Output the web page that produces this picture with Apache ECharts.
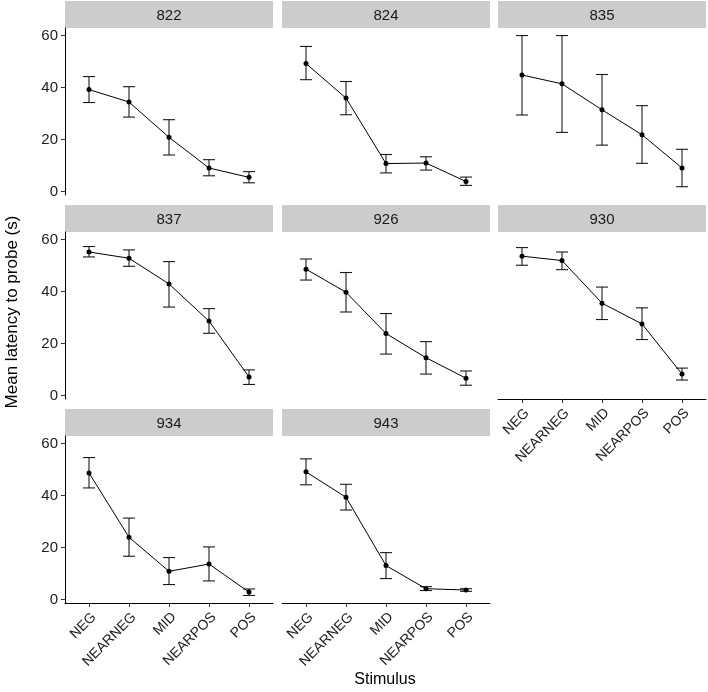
<!DOCTYPE html>
<html>
<head>
<meta charset="utf-8">
<script src="https://cdn.jsdelivr.net/npm/echarts@6/dist/echarts.min.js"></script>
<style>
  html, body { margin: 0; padding: 0; background: #fff; }
  #chart { width: 708px; height: 692px; }
</style>
</head>
<body>
<div id="chart"></div>
<script>
// categories and facet labels
const stimuli = ['NEG', 'NEARNEG', 'MID', 'NEARPOS', 'POS'];
const subjects = ['822', '824', '835', '837', '926', '930', '934', '943'];
const yTicks = [0, 20, 40, 60];

// mean latency, lower and upper error bar per subject (NEG .. POS)
const mean822 = [39.2, 34.4, 20.8, 9.0, 5.4];
const lower822 = [34.2, 28.6, 14.0, 6.0, 3.3];
const upper822 = [44.2, 40.3, 27.6, 12.2, 7.6];

const mean824 = [49.2, 35.9, 10.7, 10.9, 3.8];
const lower824 = [43.0, 29.5, 7.1, 8.2, 2.3];
const upper824 = [55.8, 42.3, 14.2, 13.3, 5.5];

const mean835 = [44.8, 41.4, 31.4, 21.8, 9.0];
const lower835 = [29.4, 22.7, 17.8, 10.8, 1.8];
const upper835 = [60.0, 60.0, 45.0, 33.0, 16.2];

const mean837 = [55.2, 52.8, 42.9, 28.6, 7.1];
const lower837 = [53.3, 49.7, 34.0, 23.9, 4.2];
const upper837 = [57.3, 56.0, 51.5, 33.4, 9.8];

const mean926 = [48.6, 39.7, 23.8, 14.5, 6.6];
const lower926 = [44.4, 32.1, 15.9, 8.2, 3.9];
const upper926 = [52.5, 47.3, 31.5, 20.7, 9.4];

const mean930 = [53.6, 51.9, 35.5, 27.5, 8.2];
const lower930 = [50.1, 48.4, 29.2, 21.5, 5.9];
const upper930 = [56.9, 55.2, 41.7, 33.7, 10.5];

const mean934 = [48.7, 23.9, 10.8, 13.6, 2.8];
const lower934 = [42.9, 16.6, 5.7, 7.1, 1.5];
const upper934 = [54.6, 31.3, 16.1, 20.2, 4.0];

const mean943 = [49.1, 39.3, 13.0, 4.1, 3.6];
const lower943 = [44.1, 34.4, 8.0, 3.4, 3.1];
const upper943 = [54.1, 44.3, 18.0, 4.9, 4.1];

const means = [mean822, mean824, mean835, mean837, mean926, mean930, mean934, mean943];
const lowers = [lower822, lower824, lower835, lower837, lower926, lower930, lower934, lower943];
const uppers = [upper822, upper824, upper835, upper837, upper926, upper930, upper934, upper943];

// layout
const colLeft = [65, 282, 498];
const rowTop = [1, 205, 409];
const stripH = 27, panelW = 208, panelH = 167;
const bottomPanels = [5, 6, 7];
const font = "'Liberation Sans', Arial, sans-serif";

const chart = echarts.init(document.getElementById('chart'), null, { renderer: 'canvas' });

const grids = [], xAxes = [], yAxes = [], series = [], graphics = [];

function errorBar(params, api) {
    const x = api.value(0);
    const lo = api.coord([x, api.value(1)]);
    const hi = api.coord([x, api.value(2)]);
    const hw = api.size([0.15, 0])[0];
    const style = { stroke: '#1a1a1a', lineWidth: 1.1 };
    return {
        type: 'group',
        children: [
            { type: 'line', shape: { x1: lo[0], y1: lo[1], x2: hi[0], y2: hi[1] }, style },
            { type: 'line', shape: { x1: lo[0] - hw, y1: lo[1], x2: lo[0] + hw, y2: lo[1] }, style },
            { type: 'line', shape: { x1: hi[0] - hw, y1: hi[1], x2: hi[0] + hw, y2: hi[1] }, style }
        ]
    };
}

subjects.forEach((name, i) => {
    const r = Math.floor(i / 3), c = i % 3;
    const left = colLeft[c], top = rowTop[r] + stripH;
    const isBottom = bottomPanels.includes(i);
    const isLeft = c === 0;

    grids.push({ left, top, width: panelW, height: panelH });

    xAxes.push({
        type: 'value', gridIndex: i, min: -0.6, max: 4.6,
        splitLine: { show: false },
        axisLine: { show: isBottom, onZero: false, lineStyle: { color: '#000', width: 1 } },
        axisTick: { show: isBottom, customValues: [0, 1, 2, 3, 4], length: 4, lineStyle: { color: '#333' } },
        axisLabel: {
            show: isBottom, customValues: [0, 1, 2, 3, 4], rotate: 45, margin: 7,
            align: 'right', verticalAlign: 'top',
            formatter: v => stimuli[Math.round(v)],
            fontFamily: font, fontSize: 14, color: '#222'
        }
    });

    yAxes.push({
        type: 'value', gridIndex: i, min: -1.4, max: 62.9,
        splitLine: { show: false },
        axisLine: { show: isLeft, onZero: false, lineStyle: { color: '#000', width: 1 } },
        axisTick: { show: isLeft, customValues: yTicks, length: 4, lineStyle: { color: '#333' } },
        axisLabel: {
            show: isLeft, customValues: yTicks, margin: 7,
            fontFamily: font, fontSize: 15, color: '#222'
        }
    });

    series.push({
        type: 'custom', xAxisIndex: i, yAxisIndex: i,
        renderItem: errorBar,
        data: means[i].map((m, k) => [k, lowers[i][k], uppers[i][k]]),
        z: 2, silent: true
    });

    series.push({
        type: 'line', xAxisIndex: i, yAxisIndex: i,
        data: means[i].map((m, k) => [k, m]),
        symbol: 'circle', symbolSize: 5,
        lineStyle: { color: '#000', width: 1 },
        itemStyle: { color: '#000' },
        z: 3, silent: true
    });

    // facet strip
    graphics.push({
        type: 'rect', left, top: rowTop[r],
        shape: { width: panelW, height: stripH },
        style: { fill: '#cccccc' }, silent: true
    });
    graphics.push({
        type: 'text', x: left + panelW / 2, y: rowTop[r] + stripH / 2 + 1,
        style: { text: name, fill: '#1a1a1a', font: '15px ' + font, align: 'center', verticalAlign: 'middle' },
        silent: true
    });
});

graphics.push({
    type: 'text', x: 385, y: 680,
    style: { text: 'Stimulus', fill: '#000', font: '16px ' + font, align: 'center', verticalAlign: 'middle' }
});
graphics.push({
    type: 'text', x: 12, y: 312, rotation: Math.PI / 2,
    style: { text: 'Mean latency to probe (s)', fill: '#000', font: '17px ' + font, align: 'center', verticalAlign: 'middle' }
});

chart.setOption({
    animation: false,
    grid: grids,
    xAxis: xAxes,
    yAxis: yAxes,
    series,
    graphic: graphics
});
</script>
</body>
</html>
